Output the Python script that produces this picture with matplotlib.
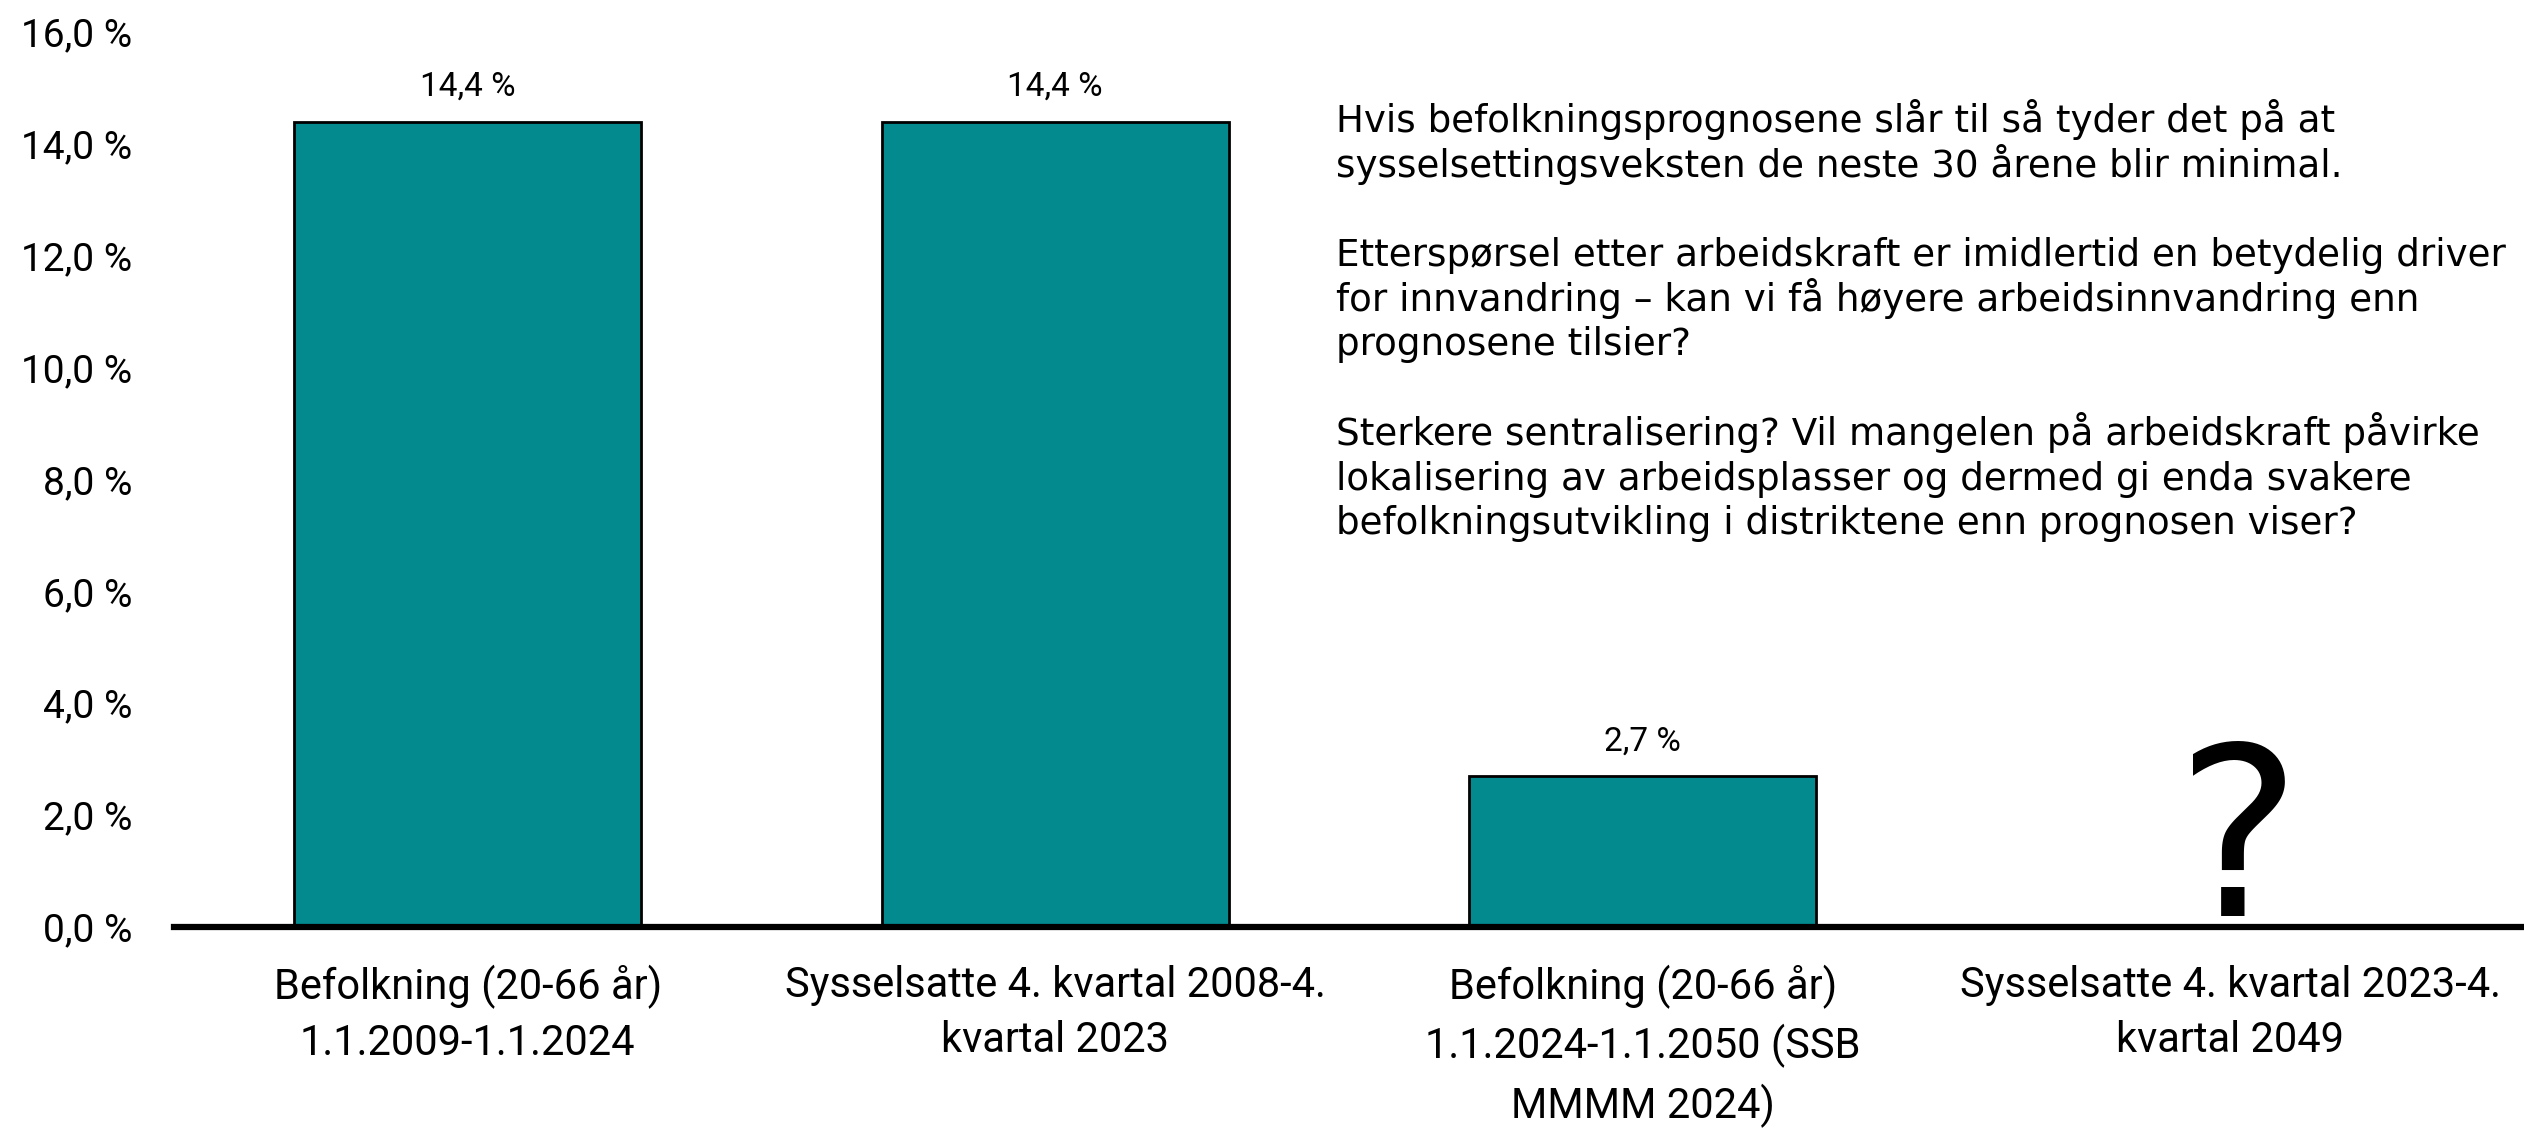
import numpy as np
import matplotlib
matplotlib.use("Agg")
import matplotlib.pyplot as plt
from matplotlib import font_manager
from matplotlib.ticker import FuncFormatter

# data
categories = [
    "Befolkning (20-66 år)\n1.1.2009-1.1.2024",
    "Sysselsatte 4. kvartal 2008-4.\nkvartal 2023",
    "Befolkning (20-66 år)\n1.1.2024-1.1.2050 (SSB\nMMMM 2024)",
    "Sysselsatte 4. kvartal 2023-4.\nkvartal 2049",
]
values = [14.4, 14.4, 2.7, np.nan]
y_ticks = [0, 2, 4, 6, 8, 10, 12, 14, 16]
comment_lines = [
    "Hvis befolkningsprognosene slår til så tyder det på at",
    "sysselsettingsveksten de neste 30 årene blir minimal.",
    "",
    "Etterspørsel etter arbeidskraft er imidlertid en betydelig driver",
    "for innvandring – kan vi få høyere arbeidsinnvandring enn",
    "prognosene tilsier?",
    "",
    "Sterkere sentralisering? Vil mangelen på arbeidskraft påvirke",
    "lokalisering av arbeidsplasser og dermed gi enda svakere",
    "befolkningsutvikling i distriktene enn prognosen viser?",
]


def pick_font(names):
    for n in names:
        try:
            font_manager.findfont(n, fallback_to_default=False)
            return n
        except ValueError:
            continue
    return "DejaVu Sans"


narrow = pick_font(["Liberation Sans Narrow", "Roboto", "DejaVu Sans"])

teal = "#028a8f"
W, H = 2524, 1129

fig = plt.figure(figsize=(W / 100, H / 100), dpi=100)
ax = fig.add_axes([174 / W, 1 - 927 / H, 1 - 174 / W, (927 - 32) / H])

x = np.arange(len(categories))
ax.bar(x, values, width=0.59, color=teal, edgecolor="black", linewidth=2)

for xi, v in zip(x, values):
    if np.isnan(v):
        continue
    ax.annotate(f"{v:.1f} %".replace(".", ","), (xi, v), xytext=(0, 25),
                textcoords="offset points", ha="center", va="center",
                fontsize=24, family=narrow)

# no value for the last period, just a big question mark
ax.annotate("?", (x[-1], 0.2), xytext=(6, 0), textcoords="offset points",
            ha="center", va="baseline", fontsize=170, family="DejaVu Sans")

ax.set_xlim(-0.5, 3.5)
ax.set_ylim(0, 16)
ax.set_yticks(y_ticks)
ax.yaxis.set_major_formatter(FuncFormatter(lambda v, p: f"{v:.1f} %".replace(".", ",")))
ax.set_xticks(x)
ax.set_xticklabels(categories, family=narrow, fontsize=30, linespacing=1.45)
for lab in ax.get_yticklabels():
    lab.set_family(narrow)
    lab.set_fontsize(28)

ax.tick_params(axis="y", length=0, pad=30)
ax.tick_params(axis="x", length=0, pad=27)
for s in ["top", "right", "left"]:
    ax.spines[s].set_visible(False)
ax.spines["bottom"].set_linewidth(4.5)
ax.spines["bottom"].set_color("black")

# comment block, one line at a time for even spacing
y0 = 132
for i, line in enumerate(comment_lines):
    if line:
        fig.text(1336 / W, 1 - (y0 + i * 44.7) / H, line, ha="left",
                 va="baseline", fontsize=26.8, family="DejaVu Sans")

fig.savefig("out.png", dpi=100)
